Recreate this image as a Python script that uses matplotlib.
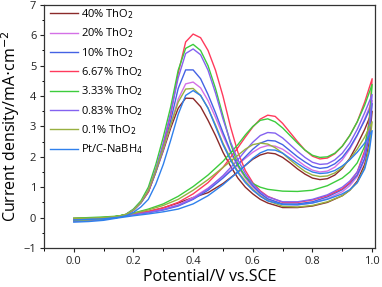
import matplotlib
matplotlib.use("Agg")
import matplotlib.pyplot as plt
from matplotlib.ticker import MultipleLocator

# potential grids (V vs. SCE) for the forward and reverse scans
x_fwd = [0.0, 0.05, 0.1, 0.15, 0.2, 0.25, 0.3, 0.35, 0.4, 0.45, 0.5, 0.55, 0.575, 0.6, 0.625,
         0.65, 0.675, 0.7, 0.725, 0.75, 0.775, 0.8, 0.825, 0.85, 0.875, 0.9, 0.925, 0.95, 0.975, 1.0]
x_rev = [1.0, 0.99, 0.975, 0.95, 0.925, 0.9, 0.85, 0.8, 0.75, 0.7, 0.65, 0.625, 0.6, 0.575, 0.55,
         0.525, 0.5, 0.475, 0.45, 0.425, 0.4, 0.375, 0.35, 0.325, 0.3, 0.275, 0.25, 0.225, 0.2,
         0.175, 0.15, 0.1, 0.05, 0.0]

labels = ["40% ThO$_2$", "20% ThO$_2$", "10% ThO$_2$", "6.67% ThO$_2$", "3.33% ThO$_2$",
          "0.83% ThO$_2$", "0.1% ThO$_2$", "Pt/C-NaBH$_4$"]
colors = ["#8b2a2a", "#d470e6", "#4462e4", "#ff3a5c", "#3ccc3c", "#8462f0", "#98b040", "#2f80ec"]

# current density (mA cm^-2), forward scans
fwd_40 = [-0.08, -0.06, -0.03, 0.04, 0.12, 0.2, 0.32, 0.48, 0.66, 0.82, 1.12, 1.5, 1.72, 1.92, 2.06,
          2.13, 2.1, 1.98, 1.8, 1.6, 1.43, 1.3, 1.25, 1.28, 1.4, 1.62, 1.95, 2.4, 2.9, 3.5]
fwd_20 = [-0.1, -0.08, -0.05, 0.03, 0.11, 0.18, 0.28, 0.42, 0.66, 0.97, 1.35, 1.75, 1.95, 2.15, 2.3,
          2.37, 2.35, 2.25, 2.08, 1.88, 1.7, 1.56, 1.5, 1.53, 1.66, 1.9, 2.25, 2.7, 3.25, 3.85]
fwd_10 = [-0.12, -0.1, -0.06, 0.02, 0.1, 0.16, 0.25, 0.38, 0.6, 0.9, 1.3, 1.75, 2.0, 2.25, 2.45,
          2.54, 2.52, 2.4, 2.2, 2.0, 1.83, 1.68, 1.62, 1.65, 1.77, 1.98, 2.3, 2.72, 3.2, 3.75]
fwd_667 = [-0.06, -0.04, -0.02, 0.04, 0.12, 0.2, 0.32, 0.5, 0.78, 1.15, 1.65, 2.3, 2.65, 2.98, 3.24,
           3.37, 3.33, 3.1, 2.8, 2.5, 2.22, 2.02, 1.93, 1.96, 2.1, 2.35, 2.7, 3.15, 3.8, 4.57]
fwd_333 = [-0.1, -0.07, -0.03, 0.05, 0.15, 0.28, 0.45, 0.7, 1.02, 1.4, 1.85, 2.4, 2.72, 3.0, 3.2,
           3.25, 3.15, 2.95, 2.7, 2.45, 2.22, 2.05, 1.98, 2.0, 2.12, 2.35, 2.7, 3.15, 3.7, 4.38]
fwd_083 = [-0.12, -0.1, -0.06, 0.02, 0.1, 0.17, 0.26, 0.4, 0.62, 0.95, 1.38, 1.9, 2.2, 2.48, 2.7,
           2.8, 2.78, 2.62, 2.4, 2.18, 1.98, 1.82, 1.75, 1.77, 1.9, 2.12, 2.45, 2.9, 3.45, 4.05]
fwd_01 = [-0.1, -0.08, -0.04, 0.04, 0.14, 0.25, 0.4, 0.6, 0.9, 1.25, 1.65, 2.05, 2.25, 2.4, 2.45,
          2.42, 2.3, 2.12, 1.9, 1.7, 1.52, 1.4, 1.35, 1.37, 1.47, 1.65, 1.92, 2.25, 2.65, 3.15]
fwd_ptc = [-0.15, -0.13, -0.09, -0.01, 0.06, 0.12, 0.19, 0.28, 0.45, 0.72, 1.08, 1.5, 1.72, 1.95, 2.13,
           2.23, 2.22, 2.12, 1.95, 1.78, 1.62, 1.5, 1.45, 1.47, 1.55, 1.7, 1.9, 2.15, 2.45, 2.86]

# reverse scans
rev_40 = [3.5, 2.5, 1.75, 1.2, 0.9, 0.72, 0.5, 0.38, 0.33, 0.33, 0.48, 0.6, 0.78, 1.0, 1.3,
          1.7, 2.15, 2.7, 3.2, 3.65, 3.92, 3.93, 3.6, 2.95, 2.2, 1.5, 0.85, 0.5, 0.25,
          0.1, 0.04, 0.0, -0.02, -0.03]
rev_20 = [3.85, 2.7, 1.9, 1.35, 1.05, 0.85, 0.62, 0.48, 0.42, 0.43, 0.6, 0.78, 1.0, 1.3, 1.68,
          2.15, 2.7, 3.3, 3.85, 4.27, 4.46, 4.4, 3.9, 3.05, 2.25, 1.5, 0.85, 0.48, 0.24,
          0.09, 0.03, -0.01, -0.03, -0.04]
rev_10 = [3.75, 2.7, 1.95, 1.4, 1.12, 0.92, 0.68, 0.52, 0.45, 0.45, 0.62, 0.8, 1.05, 1.35, 1.72,
          2.2, 2.8, 3.45, 4.05, 4.57, 4.86, 4.86, 4.25, 3.2, 2.3, 1.5, 0.85, 0.48, 0.24,
          0.09, 0.02, -0.03, -0.05, -0.06]
rev_667 = [4.57, 3.2, 2.2, 1.5, 1.15, 0.95, 0.72, 0.58, 0.5, 0.5, 0.7, 0.88, 1.15, 1.55, 2.15,
           3.0, 4.0, 4.85, 5.5, 5.92, 6.04, 5.78, 4.75, 3.4, 2.4, 1.55, 0.85, 0.5, 0.25,
           0.1, 0.04, 0.0, -0.02, -0.03]
rev_333 = [4.38, 3.1, 2.35, 1.8, 1.5, 1.3, 1.05, 0.9, 0.86, 0.87, 0.93, 1.0, 1.12, 1.35, 1.75,
           2.45, 3.35, 4.25, 5.0, 5.5, 5.7, 5.57, 4.85, 3.65, 2.65, 1.75, 1.0, 0.55, 0.28,
           0.11, 0.05, 0.02, 0.0, -0.02]
rev_083 = [4.05, 2.9, 2.1, 1.5, 1.2, 1.0, 0.75, 0.6, 0.52, 0.52, 0.68, 0.85, 1.1, 1.45, 1.9,
           2.5, 3.25, 4.1, 4.85, 5.36, 5.55, 5.4, 4.6, 3.45, 2.45, 1.6, 0.9, 0.5, 0.25,
           0.1, 0.03, -0.02, -0.04, -0.05]
rev_01 = [3.15, 2.3, 1.65, 1.15, 0.9, 0.72, 0.52, 0.4, 0.35, 0.37, 0.56, 0.72, 0.93, 1.2, 1.52,
          1.95, 2.45, 3.05, 3.6, 4.02, 4.25, 4.23, 3.8, 3.05, 2.3, 1.55, 0.9, 0.5, 0.25,
          0.1, 0.04, 0.0, -0.02, -0.03]
rev_ptc = [2.86, 2.15, 1.6, 1.15, 0.92, 0.78, 0.6, 0.48, 0.42, 0.43, 0.55, 0.7, 0.9, 1.15, 1.48,
           1.9, 2.4, 3.0, 3.6, 4.02, 4.18, 4.02, 3.4, 2.55, 1.75, 1.1, 0.6, 0.35, 0.17,
           0.06, 0.01, -0.04, -0.06, -0.08]

fwd_all = [fwd_40, fwd_20, fwd_10, fwd_667, fwd_333, fwd_083, fwd_01, fwd_ptc]
rev_all = [rev_40, rev_20, rev_10, rev_667, rev_333, rev_083, rev_01, rev_ptc]

plt.rcParams['font.family'] = ['Open Sans', 'DejaVu Sans']

fig = plt.figure(figsize=(3.82, 2.87), dpi=100)
ax = fig.add_axes([0.115, 0.136, 0.867, 0.847])

for lab, col, f, r in zip(labels, colors, fwd_all, rev_all):
    ax.plot(x_fwd + x_rev, f + r, color=col, lw=1.0, label=lab)

ax.set_xlim(-0.1, 1.01)
ax.set_ylim(-1, 7)
ax.xaxis.set_major_locator(MultipleLocator(0.2))
ax.xaxis.set_minor_locator(MultipleLocator(0.1))
ax.yaxis.set_major_locator(MultipleLocator(1))
ax.yaxis.set_minor_locator(MultipleLocator(0.5))
ax.xaxis.set_major_formatter(plt.FuncFormatter(lambda v, p: "%.1f" % v))
ax.tick_params(which='major', direction='out', length=3, width=0.8, pad=2.5,
               labelsize=8, colors='#222222')
ax.tick_params(which='minor', direction='out', length=1.8, width=0.7)
for s in ax.spines.values():
    s.set_linewidth(0.9)
    s.set_color('#333333')

ax.set_xlabel("Potential/V vs.SCE", fontsize=11.5, labelpad=2)
ax.set_ylabel("Current density/mA$\\cdot$cm$^{-2}$", fontsize=11.5, labelpad=1)

ax.legend(loc='upper left', frameon=False, fontsize=8, handlelength=2.5, labelspacing=0.5,
          borderaxespad=0.0, borderpad=0.2, handletextpad=0.3, bbox_to_anchor=(0.012, 1.0))

fig.savefig("out.png", dpi=100)
